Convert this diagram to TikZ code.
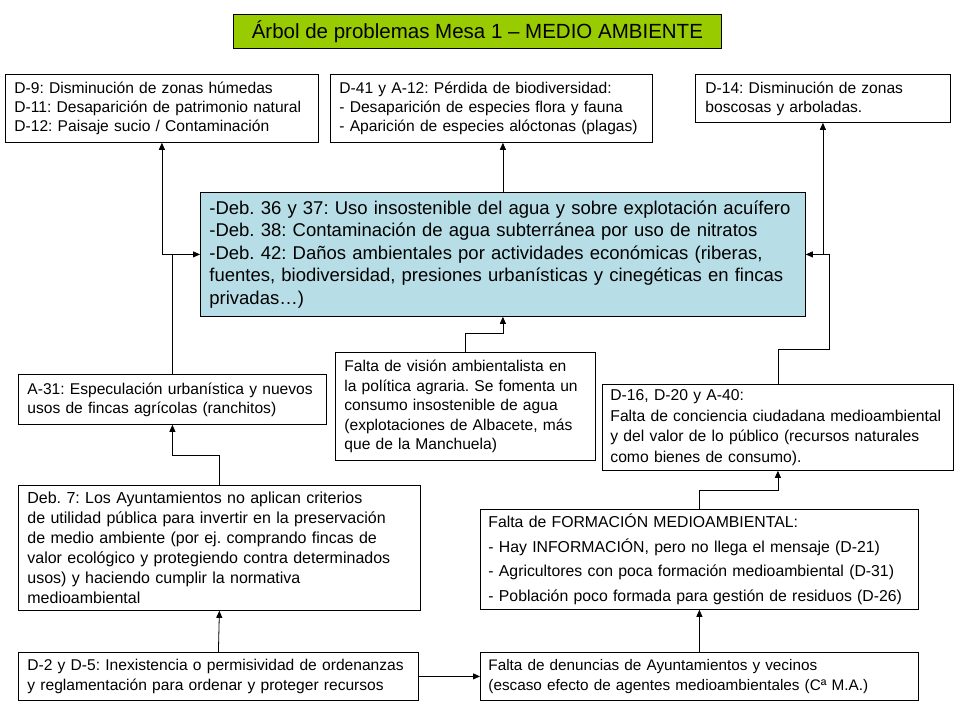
\documentclass[tikz,border=0pt]{standalone}
\usepackage{fontspec}
\setmainfont{Liberation Sans}
\usetikzlibrary{arrows.meta}
\definecolor{verdetitulo}{RGB}{153,204,0}
\definecolor{azulcentral}{RGB}{183,222,230}

\begin{document}
\frenchspacing
\begin{tikzpicture}[x=1pt,y=1pt,
  caja/.style={draw=black, line width=0.8pt, rectangle, anchor=north west, align=left,
    inner xsep=9pt, inner ysep=0pt, font=\fontsize{15.6}{19}\selectfont},
  flecha/.style={black, line width=0.8pt, -{Triangle[length=7pt,width=6pt]}},
  linea/.style={black, line width=0.8pt}]
\useasboundingbox (0,0) rectangle (960,-720);
\node [caja, fill=verdetitulo, minimum width=488pt, minimum height=34pt, font=\fontsize{20.5}{24}\selectfont] (titulo) at (233,-14) {Árbol de problemas Mesa 1 – MEDIO AMBIENTE};
\node [caja, text width=295pt, minimum height=68pt] (d9) at (5,-74) {D-9: Disminución de zonas húmedas\\D-11: Desaparición de patrimonio natural\\D-12: Paisaje sucio / Contaminación};
\node [caja, text width=304pt, minimum height=68pt] (d41) at (330,-74) {D-41 y A-12: Pérdida de biodiversidad:\\- Desaparición de especies flora y fauna\\- Aparición de especies alóctonas (plagas)};
\node [caja, text width=235pt, minimum height=48pt, inner xsep=10pt] (d14) at (695,-74) {D-14: Disminución de zonas\\boscosas y arboladas.};
\node [caja, fill=azulcentral, text width=587pt, minimum height=124pt, font=\fontsize{18.5}{22.5}\selectfont] (central) at (200,-192) {-Deb. 36 y 37: Uso insostenible del agua y sobre explotación acuífero\\-Deb. 38: Contaminación de agua subterránea por uso de nitratos\\-Deb. 42: Daños ambientales por actividades económicas (riberas,\\fuentes, biodiversidad, presiones urbanísticas y cinegéticas en fincas\\privadas…)};
\node [caja, text width=242pt, minimum height=108pt, font=\fontsize{15.6}{19.5}\selectfont] (vision) at (335,-352) {Falta de visión ambientalista en\\la política agraria. Se fomenta un\\consumo insostenible de agua\\(explotaciones de Albacete, más\\que de la Manchuela)};
\node [caja, text width=290pt, minimum height=50pt] (a31) at (18,-374) {A-31: Especulación urbanística y nuevos\\usos de fincas agrícolas (ranchitos)};
\node [caja, text width=335pt, minimum height=86pt, inner xsep=8pt, font=\fontsize{15.7}{20.5}\selectfont] (d16) at (602,-384) {D-16, D-20 y A-40:\\Falta de conciencia ciudadana medioambiental\\y del valor de lo público (recursos naturales\\como bienes de consumo).};
\node [caja, text width=384pt, minimum height=125pt, font=\fontsize{16}{20}\selectfont] (deb7) at (18,-485) {Deb. 7: Los Ayuntamientos no aplican criterios\\de utilidad pública para invertir en la preservación\\de medio ambiente (por ej. comprando fincas de\\valor ecológico y protegiendo contra determinados\\usos) y haciendo cumplir la normativa\\medioambiental};
\node [caja, text width=422pt, minimum height=100pt, inner xsep=8pt, font=\fontsize{15.8}{24.7}\selectfont] (formacion) at (480,-509) {Falta de FORMACIÓN MEDIOAMBIENTAL:\\- Hay INFORMACIÓN, pero no llega el mensaje (D-21)\\- Agricultores con poca formación medioambiental (D-31)\\- Población poco formada para gestión de residuos (D-26)};
\node [caja, text width=382pt, minimum height=48pt, font=\fontsize{15.6}{20}\selectfont] (d2) at (18,-652) {D-2 y D-5: Inexistencia o permisividad de ordenanzas\\y reglamentación para ordenar y proteger recursos};
\node [caja, text width=422pt, minimum height=48pt, inner xsep=8pt, font=\fontsize{15.3}{20}\selectfont] (denuncias) at (480,-652) {Falta de denuncias de Ayuntamientos y vecinos\\(escaso efecto de agentes medioambientales (Cª M.A.)};
\coordinate (cododer) at (829,-349);
\draw [flecha] (a31.north) |- (central.west);
\draw [flecha] (a31.north |- central.west) -| (d9.south);
\draw [flecha] (central.north) -- (central.north |- d41.south);
\draw [linea] (d16.north) |- (cododer) -- (cododer |- central.east);
\draw [flecha] (cododer |- central.east) -- (central.east);
\draw [flecha] (d14.south |- central.east) -- (d14.south);
\draw [flecha] (vision.north) -- ++(0,19) -| (central.south);
\draw [flecha] (deb7.north) -- ++(0,30) -| (a31.south);
\draw [flecha] (d2.north) -- (deb7.south);
\draw [flecha] (d2.east) -- (denuncias.west);
\draw [flecha] (denuncias.north) -- (formacion.south);
\draw [flecha] (formacion.north) -- ++(0,19) -| (d16.south);
\end{tikzpicture}
\end{document}
